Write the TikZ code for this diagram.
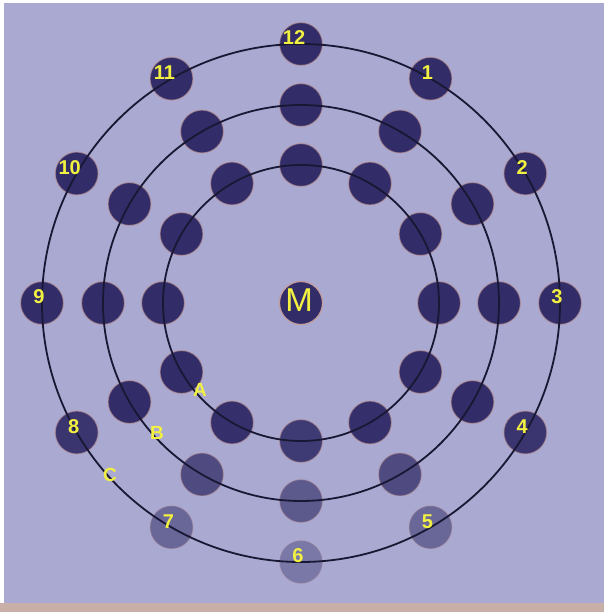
\documentclass[tikz,border=0pt]{standalone}
\usepackage{fontspec}
\setmainfont{Liberation Sans}
\definecolor{bg}{HTML}{A9A9D1}
\definecolor{dotc}{HTML}{322D68}
\definecolor{halo}{HTML}{C49C9C}
\definecolor{lbl}{HTML}{F2F040}
\definecolor{ring}{HTML}{181834}
\definecolor{strip}{HTML}{C8B0A8}
\tikzset{
  dotn/.style={circle, minimum size=43pt, inner sep=0pt, fill=dotc, draw=halo, line width=1.2pt},
  ringline/.style={draw=ring, line width=1.8pt},
  numlbl/.style={text=lbl, font=\bfseries\fontsize{20}{20}\selectfont, inner sep=0pt},
  letlbl/.style={text=lbl, font=\bfseries\fontsize{19}{19}\selectfont, inner sep=0pt},
  biglbl/.style={text=lbl, font=\fontsize{33}{33}\selectfont, inner sep=0pt}
}
\begin{document}
\begin{tikzpicture}[x=1pt,y=-1pt]
\fill[white] (0,0) rectangle (604,612);
\fill[bg] (4,3) rectangle (604,603);
\fill[strip] (0,603) rectangle (604,612);
\useasboundingbox (0,0) rectangle (604,612);
\coordinate (ctr) at (301,303);
\foreach \ring/\r in {i/138,m/198,o/259}{
  \foreach \h in {1,...,12}{
    \pgfmathsetmacro\px{301+\r*sin(30*\h)}
    \pgfmathsetmacro\py{303-\r*cos(30*\h)}
    \pgfmathsetmacro\op{min(1,1-(\py-415)/145*0.6)}
    \pgfmathsetmacro\hop{\op*0.6}
    \node[dotn, fill opacity=\op, draw opacity=\hop] (\ring\h) at (\px,\py) {};
  }
}
\node[dotn] (mc) at (ctr) {};
\draw[ringline] (ctr) circle[radius=138pt];
\draw[ringline] (ctr) circle[radius=198pt];
\draw[ringline] (ctr) circle[radius=259pt];
\node[biglbl] (mtxt) at (299,300) {M};
\foreach \h in {1,...,9}{
  \node[numlbl] (n\h) at ([shift={(-3,-6)}]o\h) {\h};
}
\foreach \h in {10,11,12}{
  \node[numlbl] (n\h) at ([shift={(-7,-6)}]o\h) {\h};
}
\node[letlbl] (la) at (200,390) {A};
\node[letlbl] (lb) at (157,433) {B};
\node[letlbl] (lc) at (110,475) {C};
\end{tikzpicture}
\end{document}
